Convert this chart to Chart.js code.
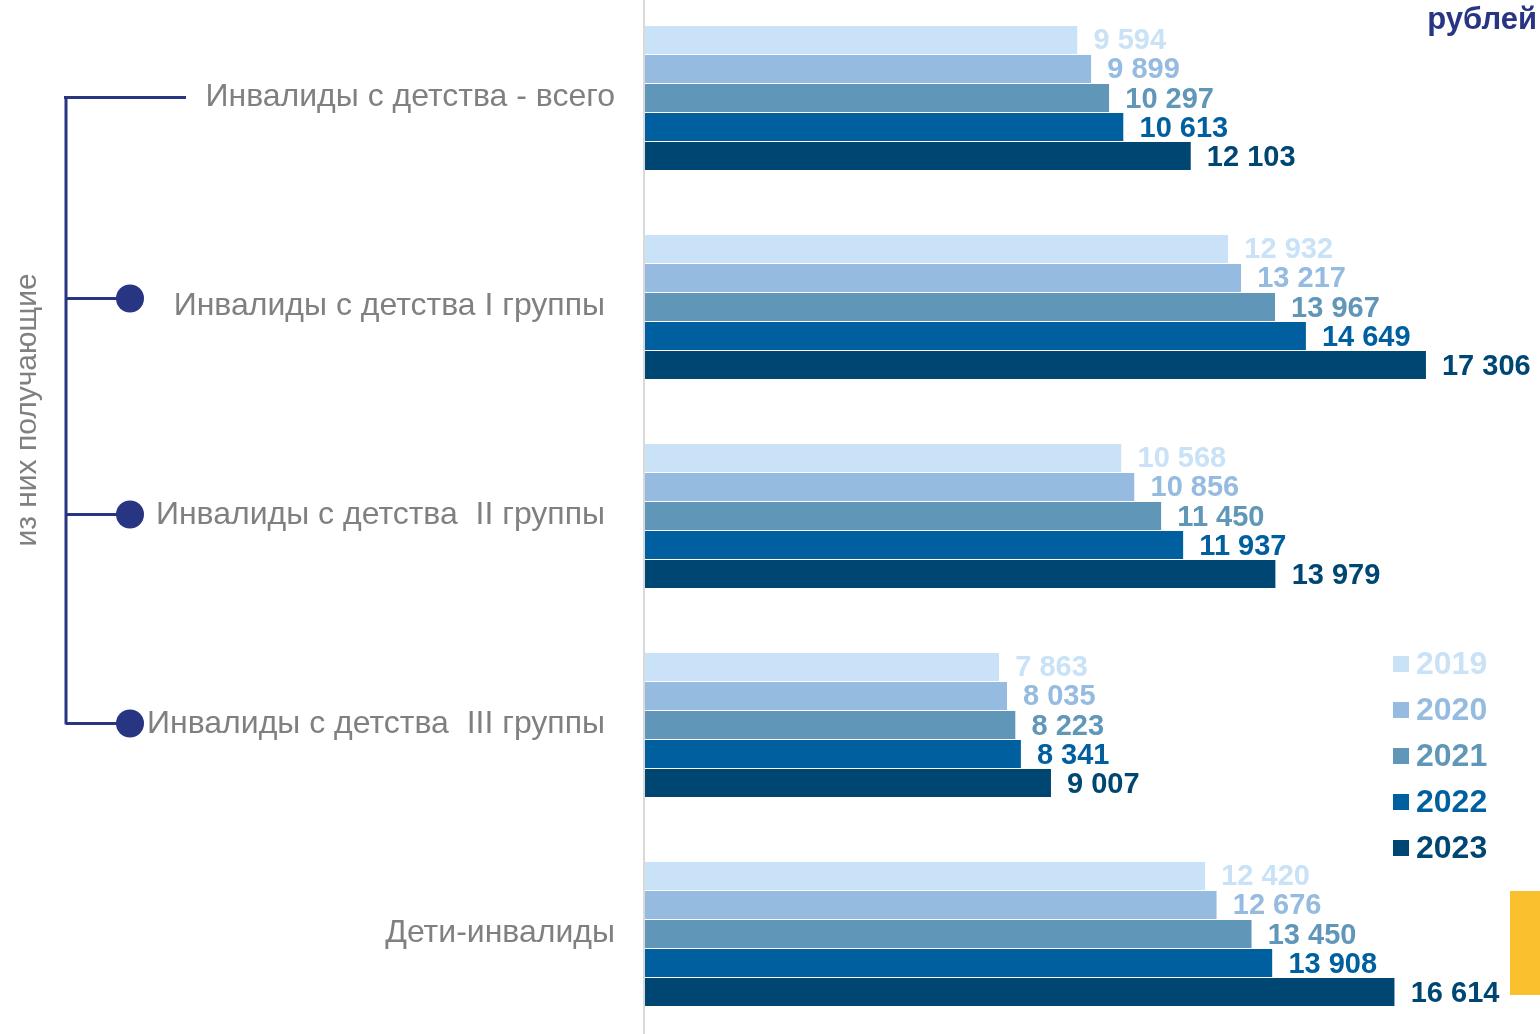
<!DOCTYPE html>
<html>
<head>
<meta charset="utf-8">
<script src="https://cdn.jsdelivr.net/npm/chart.js@4"></script>
<style>
  html, body { margin: 0; padding: 0; background: #fff; overflow: hidden; }
  #wrap { position: absolute; left: 0; top: -7px; width: 1540px; height: 1045px; }
  #note { position: absolute; right: 3px; top: 1px; font: bold 31px "Liberation Sans", Arial, sans-serif; color: #283583; }
  #flag { position: absolute; left: 1510px; top: 891px; width: 30px; height: 104px; background: #fbc02d; }
</style>
</head>
<body>
<div id="wrap"><canvas id="c"></canvas></div>
<div id="note">рублей</div>
<div id="flag"></div>
<script>
// категории и значения по годам (рублей)
const categories = [
  'Инвалиды с детства - всего',
  'Инвалиды с детства I группы',
  'Инвалиды с детства  II группы',
  'Инвалиды с детства  III группы',
  'Дети-инвалиды'
];
const years = ['2019', '2020', '2021', '2022', '2023'];
const v2019 = [9594, 12932, 10568, 7863, 12420];
const v2020 = [9899, 13217, 10856, 8035, 12676];
const v2021 = [10297, 13967, 11450, 8223, 13450];
const v2022 = [10613, 14649, 11937, 8341, 13908];
const v2023 = [12103, 17306, 13979, 9007, 16614];
const colors = ['#c9e2f7', '#95bbe0', '#6096b8', '#005f9e', '#004673'];

const FONT = '"Liberation Sans", Arial, sans-serif';
const fmt = v => String(v).replace(/\B(?=(\d{3})+(?!\d))/g, ' ');

const decor = {
  id: 'decor',
  afterDatasetsDraw(chart) {
    const ctx = chart.ctx;

    // значения у концов столбцов
    ctx.save();
    ctx.font = 'bold 29px ' + FONT;
    ctx.textBaseline = 'middle';
    ctx.textAlign = 'left';
    chart.data.datasets.forEach((ds, i) => {
      chart.getDatasetMeta(i).data.forEach((bar, j) => {
        ctx.fillStyle = ds.backgroundColor;
        ctx.fillText(fmt(ds.data[j]), bar.x + 16, bar.y + 2);
      });
    });
    ctx.restore();
  },
  afterDraw(chart) {
    const ctx = chart.ctx;
    const area = chart.chartArea;
    const y = chart.scales.y;

    // вертикальная ось
    ctx.save();
    ctx.strokeStyle = '#d9d9d9';
    ctx.lineWidth = 2;
    ctx.beginPath();
    ctx.moveTo(area.left, 0);
    ctx.lineTo(area.left, chart.height);
    ctx.stroke();

    // подписи категорий
    ctx.font = '32px ' + FONT;
    ctx.fillStyle = '#808080';
    ctx.textAlign = 'right';
    ctx.textBaseline = 'middle';
    chart.data.labels.forEach((lab, i) => {
      const right = (i === 0 || i === 4) ? area.left - 29 : area.left - 39;
      ctx.fillText(lab, right, y.getPixelForValue(i));
    });

    // скобка "из них получающие"
    const navy = '#283583';
    const y0 = y.getPixelForValue(0);
    const y3 = y.getPixelForValue(3);
    ctx.strokeStyle = navy;
    ctx.fillStyle = navy;
    ctx.lineWidth = 3;
    ctx.beginPath();
    ctx.moveTo(66, y0);
    ctx.lineTo(66, y3);
    ctx.moveTo(64, y0);
    ctx.lineTo(186, y0);
    for (let i = 1; i <= 3; i++) {
      const py = y.getPixelForValue(i) - (i === 1 ? 8 : 1);
      ctx.moveTo(66, py);
      ctx.lineTo(120, py);
    }
    ctx.stroke();
    for (let i = 1; i <= 3; i++) {
      const py = y.getPixelForValue(i) - (i === 1 ? 8 : 1);
      ctx.beginPath();
      ctx.arc(130, py, 14, 0, Math.PI * 2);
      ctx.fill();
    }

    ctx.translate(28, (y0 + y3) / 2 - 1);
    ctx.rotate(-Math.PI / 2);
    ctx.font = '30px ' + FONT;
    ctx.fillStyle = '#808080';
    ctx.textAlign = 'center';
    ctx.fillText('из них получающие', 0, 0);
    ctx.setTransform(1, 0, 0, 1, 0, 0);

    // легенда
    ctx.font = 'bold 32px ' + FONT;
    ctx.textAlign = 'left';
    chart.data.datasets.forEach((ds, i) => {
      const ly = 671 + i * 46;
      ctx.fillStyle = ds.backgroundColor;
      ctx.fillRect(1393, ly - 8, 16, 16);
      ctx.fillText(ds.label, 1416, ly + 1);
    });
    ctx.restore();
  }
};

const series = [v2019, v2020, v2021, v2022, v2023];

new Chart(document.getElementById('c'), {
  type: 'bar',
  data: {
    labels: categories,
    datasets: series.map((d, i) => ({
      label: years[i],
      data: d,
      backgroundColor: colors[i],
      borderColor: '#ffffff',
      borderWidth: { top: 1, bottom: 0, left: 0, right: 0 },
      borderSkipped: 'left',
      categoryPercentage: 0.694,
      barPercentage: 1
    }))
  },
  options: {
    indexAxis: 'y',
    responsive: true,
    maintainAspectRatio: false,
    animation: false,
    layout: { padding: { left: 644, right: 0, top: 0, bottom: 0 } },
    scales: {
      x: { display: false, min: 0, max: 19830 },
      y: { display: false }
    },
    plugins: {
      legend: { display: false },
      tooltip: { enabled: false }
    }
  },
  plugins: [decor]
});
</script>
</body>
</html>
